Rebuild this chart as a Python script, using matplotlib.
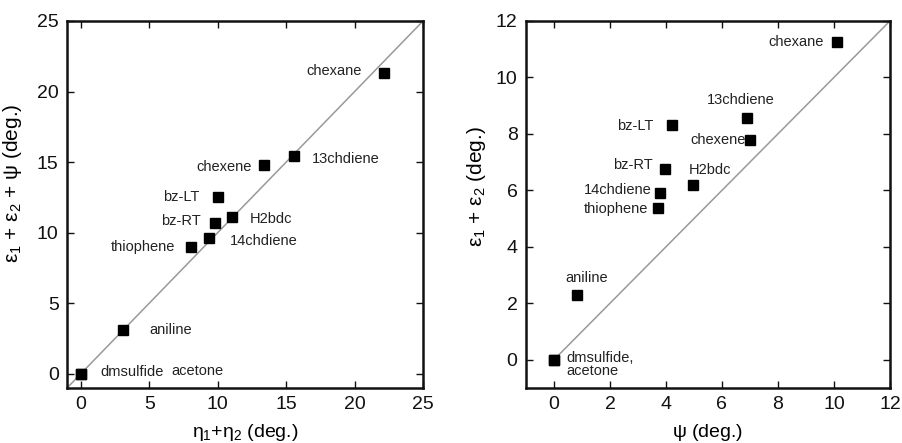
# -*- coding: utf-8 -*-
"""Two-panel angle comparison scatter (gnuplot-like style)."""

import matplotlib
matplotlib.use("Agg")
import matplotlib.pyplot as plt

# %% Data
names = ["dmsulfide", "acetone", "aniline", "thiophene", "14chdiene", "bz-RT",
         "bz-LT", "H2bdc", "chexene", "13chdiene", "chexane"]

# left panel: eta1+eta2 vs eps1+eps2+psi
eta_sum = [0.0, 0.0, 3.1, 8.05, 9.4, 9.8, 10.0, 11.05, 13.4, 15.6, 22.15]
eps_psi = [0.0, 0.0, 3.1, 9.0, 9.6, 10.7, 12.55, 11.1, 14.8, 15.4, 21.3]

# right panel: psi vs eps1+eps2
psi = [0.0, 0.0, 0.81, 3.7, 3.77, 3.97, 4.2, 4.96, 7.0, 6.9, 10.1]
eps_sum = [0.0, 0.0, 2.28, 5.39, 5.91, 6.75, 8.32, 6.18, 7.8, 8.55, 11.25]

# label placement (offset pixels, ha) per panel
left_lab = {
    "dmsulfide": (20, 2, "left"), "acetone": (91, 3, "left"),
    "aniline": (26, 0, "left"), "thiophene": (-16, 0, "right"),
    "14chdiene": (20, -3, "left"), "bz-RT": (-14, 2, "right"),
    "bz-LT": (-18, 0, "right"), "H2bdc": (18, -2, "left"),
    "chexene": (-12, -2, "right"), "13chdiene": (18, -3, "left"),
    "chexane": (-22, 2, "right"),
}
right_lab = {
    "dmsulfide": (12, -5, "left"), "aniline": (10, 17, "center"),
    "thiophene": (-9, -1, "right"), "14chdiene": (-8, 3, "right"),
    "bz-RT": (-12, 4, "right"), "bz-LT": (-18, -1, "right"),
    "H2bdc": (-4, 15, "left"), "chexene": (-4, 0, "right"),
    "13chdiene": (-6, 18, "center"), "chexane": (-13, 0, "right"),
}

plt.rcParams['font.family'] = ['Liberation Sans', 'DejaVu Sans']
plt.rcParams['mathtext.fontset'] = 'custom'
plt.rcParams['mathtext.rm'] = 'Liberation Sans'
plt.rcParams['mathtext.it'] = 'Liberation Sans'


def style(ax, lim, ticks):
    ax.set_xlim(*lim)
    ax.set_ylim(*lim)
    ax.set_xticks(ticks)
    ax.set_yticks(ticks)
    ax.tick_params(direction='in', length=5, width=1, top=True, right=True,
                   labelsize=14, pad=6, colors='#111111')
    for s in ax.spines.values():
        s.set_linewidth(1.8)
        s.set_color('#111111')


fig = plt.figure(figsize=(9.02, 4.43), dpi=100)
ax1 = fig.add_axes([0.0743, 0.1242, 0.3947, 0.8284])
ax2 = fig.add_axes([0.5831, 0.1242, 0.4035, 0.8284])

# %% Left panel
ax1.plot([-1, 25], [-1, 25], color='#999999', lw=1.1, zorder=1)
ax1.plot(eta_sum, eps_psi, 's', color='black', ms=6.5, zorder=3)
for n, x, y in zip(names, eta_sum, eps_psi):
    dx, dy, ha = left_lab[n]
    ax1.annotate(n, (x, y), xytext=(dx, dy), textcoords='offset pixels',
                 ha=ha, va='center', fontsize=10.5, color='#222222')
style(ax1, (-1, 25), [0, 5, 10, 15, 20, 25])
ax1.set_xlabel(r'$\eta_1$+$\eta_2$ (deg.)', fontsize=14, labelpad=6)
ax1.set_ylabel(r'$\varepsilon_1$ + $\varepsilon_2$ + $\psi$ (deg.)', fontsize=15)
ax1.yaxis.set_label_coords(-0.121, 0.558)

# %% Right panel
ax2.plot([0, 12], [0, 12], color='#999999', lw=1.1, zorder=1)
ax2.plot(psi, eps_sum, 's', color='black', ms=6.5, zorder=3)
for n, x, y in zip(names, psi, eps_sum):
    if n == "acetone":
        continue
    dx, dy, ha = right_lab[n]
    txt = "dmsulfide,\nacetone" if n == "dmsulfide" else n
    ax2.annotate(txt, (x, y), xytext=(dx, dy), textcoords='offset pixels',
                 ha=ha, va='center', fontsize=10.5, color='#222222',
                 linespacing=0.95)
style(ax2, (-1, 12), [0, 2, 4, 6, 8, 10, 12])
ax2.set_xlabel(r'$\psi$ (deg.)', fontsize=14, labelpad=6)
ax2.set_ylabel(r'$\varepsilon_1$ + $\varepsilon_2$ (deg.)', fontsize=15)
ax2.yaxis.set_label_coords(-0.104, 0.549)

fig.savefig("out.png", dpi=100)
